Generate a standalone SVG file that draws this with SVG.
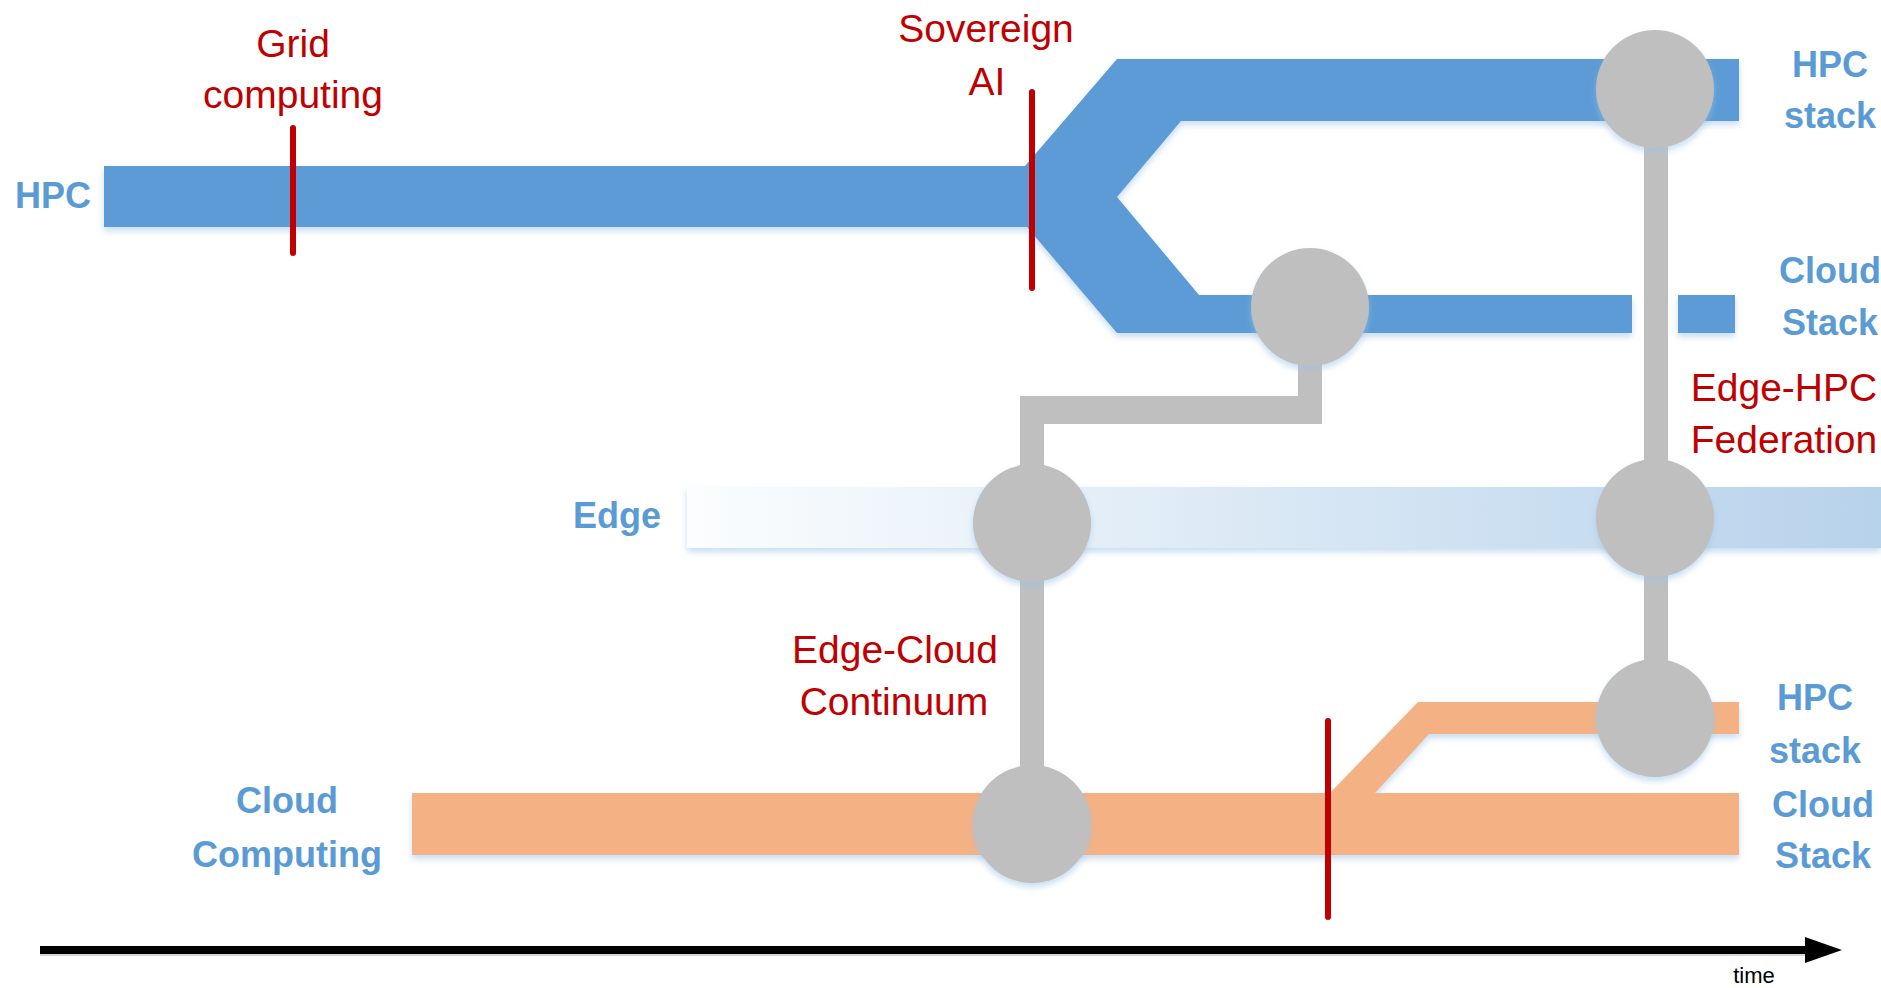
<svg xmlns="http://www.w3.org/2000/svg" width="1881" height="988" viewBox="0 0 1881 988">
<defs>
<style>
.blue{fill:#5b9bd5}
.orange{fill:#f4b183}
.node{fill:#bfbfbf}
.conn{fill:#bfbfbf}
.red{stroke:#c00000;stroke-width:6;stroke-linecap:round;fill:none}
.lbl{font-family:"Liberation Sans",Arial,sans-serif;font-weight:bold;font-size:36px;fill:#5b9bd5;text-anchor:middle}
.evt{font-family:"Liberation Sans",Arial,sans-serif;font-size:39px;fill:#c00000;text-anchor:middle}
</style>
<filter id="sh" x="-10%" y="-30%" width="120%" height="170%">
<feDropShadow dx="0" dy="4" stdDeviation="3" flood-color="#9dc3e6" flood-opacity="0.55"/>
</filter>
<linearGradient id="edgeg" x1="687" y1="0" x2="1881" y2="0" gradientUnits="userSpaceOnUse">
<stop offset="0" stop-color="#fbfdfe"/>
<stop offset="1" stop-color="#b7d2eb"/>
</linearGradient>
</defs>
<rect width="1881" height="988" fill="#ffffff"/>

<g id="tracks" filter="url(#sh)">
<polygon id="hpc-track" class="blue" points="104,166 1025,166 1117,59 1739,59 1739,121 1181,121 1117,197 1199,295 1632,295 1632,333 1117,333 1027,227 104,227"/>
<rect id="cloud-stack-tail" class="blue" x="1678" y="295" width="57" height="38"/>
<rect id="edge-track" x="687" y="487" width="1194" height="61" fill="url(#edgeg)"/>
<polygon id="cloud-track" class="orange" points="412,793 1330,793 1418,702 1739,702 1739,734 1429,734 1375,793 1739,793 1739,855 412,855"/>
</g>

<g id="connectors">
<path class="conn" d="M1298,360 H1322 V424 H1044 V523 H1020 V396 H1298 Z"/>
<rect class="conn" x="1020" y="523" width="24" height="301"/>
<rect class="conn" x="1644" y="89" width="24" height="629"/>
</g>

<g id="node-hpc-stack" filter="url(#sh)"><circle class="node" cx="1655" cy="89" r="59"/></g>
<g id="node-cloud-stack" filter="url(#sh)"><circle class="node" cx="1310" cy="307" r="59"/></g>
<g id="node-edge-cloud" filter="url(#sh)"><circle class="node" cx="1032" cy="523" r="59"/></g>
<g id="node-edge-hpc" filter="url(#sh)"><circle class="node" cx="1655" cy="518" r="59"/></g>
<g id="node-cloud-hpc" filter="url(#sh)"><circle class="node" cx="1655" cy="718" r="59"/></g>
<g id="node-cloud-computing" filter="url(#sh)"><circle class="node" cx="1032" cy="824" r="59"/></g>

<g id="events">
<line class="red" x1="293" y1="128" x2="293" y2="253"/>
<line class="red" x1="1032" y1="92" x2="1032" y2="288"/>
<line class="red" x1="1328" y1="721" x2="1328" y2="917"/>
</g>

<g id="labels">
<text class="lbl" x="53" y="208">HPC</text>
<text class="lbl" x="1830" y="77">HPC</text>
<text class="lbl" x="1830" y="128">stack</text>
<text class="lbl" x="1830" y="283">Cloud</text>
<text class="lbl" x="1830" y="335">Stack</text>
<text class="lbl" x="617" y="528">Edge</text>
<text class="lbl" x="287" y="813">Cloud</text>
<text class="lbl" x="287" y="867">Computing</text>
<text class="lbl" x="1815" y="710">HPC</text>
<text class="lbl" x="1815" y="763">stack</text>
<text class="lbl" x="1823" y="817">Cloud</text>
<text class="lbl" x="1823" y="868">Stack</text>
<text class="evt" x="293" y="57">Grid</text>
<text class="evt" x="293" y="108">computing</text>
<text class="evt" x="986" y="42">Sovereign</text>
<text class="evt" x="987" y="95">AI</text>
<text class="evt" x="895" y="663">Edge-Cloud</text>
<text class="evt" x="894" y="715">Continuum</text>
<text class="evt" x="1784" y="401">Edge-HPC</text>
<text class="evt" x="1784" y="453">Federation</text>
</g>

<g id="time-axis">
<line x1="40" y1="952" x2="1808" y2="952" stroke="#bfbfbf" stroke-width="8" opacity="0.6"/>
<line x1="40" y1="950" x2="1808" y2="950" stroke="#000000" stroke-width="8"/>
<polygon points="1805,937 1842,950 1805,963" fill="#000000"/>
<text x="1754" y="983" font-family="'Liberation Sans',Arial,sans-serif" font-size="22" fill="#000000" text-anchor="middle">time</text>
</g>
</svg>
